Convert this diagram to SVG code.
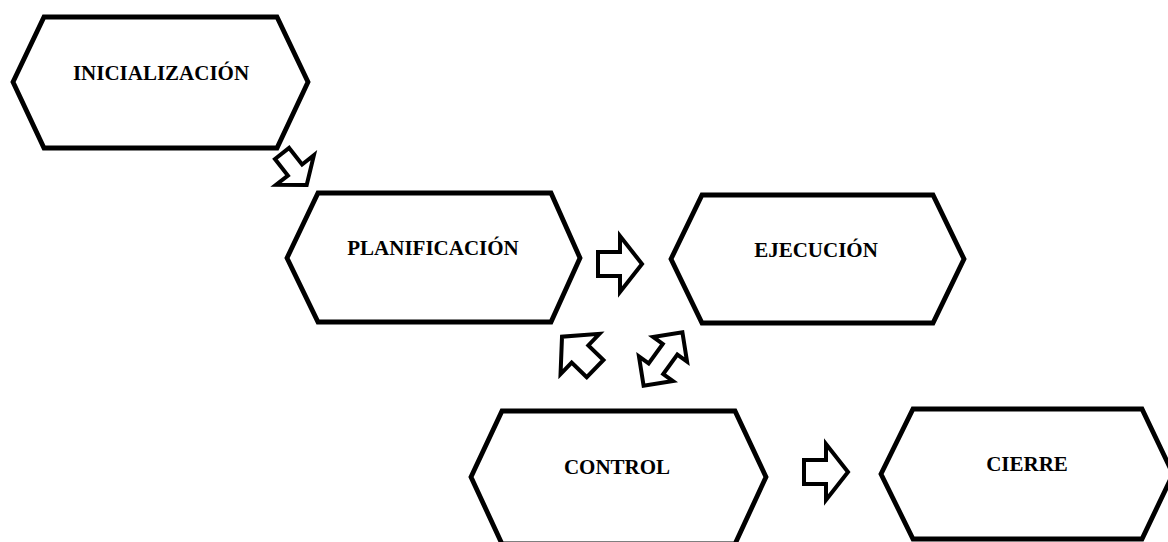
<svg xmlns="http://www.w3.org/2000/svg" width="1168" height="542" viewBox="0 0 1168 542">
  <style>
    .hex { fill: #ffffff; stroke: #000000; stroke-width: 4.8; stroke-linejoin: miter; }
    .lbl { font-family: "Liberation Serif", "Times New Roman", serif; font-weight: bold; font-size: 21px; fill: #000000; text-anchor: middle; }
    .blk { fill: #ffffff; stroke: #000000; stroke-width: 4; stroke-linejoin: miter; }
  </style>
  <defs>
    <path id="rarrow" d="M-22,-12 H0 V-28 L22,0 L0,28 V12 H-22 Z"/>
  </defs>
  <rect x="0" y="0" width="1168" height="542" fill="#ffffff"/>

  <g id="connectors">
    <path class="blk" transform="translate(295,170) rotate(52)" d="M-21,-9 H0 V-24 L19,0 L0,24 V9 H-21 Z"/>
    <use class="blk" href="#rarrow" transform="translate(620,264)"/>
    <use class="blk" href="#rarrow" transform="translate(826,472)"/>
    <path class="blk" transform="translate(580,354) rotate(-136)" d="M-21,-12 H0 V-28 L25,0 L0,28 V12 H-21 Z"/>
    <path class="blk" transform="translate(663,359) rotate(-54)" d="M-33,0 L-12,-21 V-9 H12 V-21 L33,0 L12,21 V9 H-12 V21 Z"/>
  </g>

  <g id="node-inicializacion">
    <polygon class="hex" points="13,82 44,17 277,17 308,82 277,148 44,148"/>
    <text class="lbl" x="161" y="80">INICIALIZACIÓN</text>
  </g>
  <g id="node-planificacion">
    <polygon class="hex" points="287,258 318,193 551,193 580,258 551,322 318,322"/>
    <text class="lbl" x="433" y="255">PLANIFICACIÓN</text>
  </g>
  <g id="node-ejecucion">
    <polygon class="hex" points="671,259 702,195 933,195 964,259 933,323 702,323"/>
    <text class="lbl" x="816" y="257">EJECUCIÓN</text>
  </g>
  <g id="node-control">
    <polygon class="hex" points="471,477 502,411 735,411 766,477 735,544 502,544"/>
    <text class="lbl" x="617" y="474">CONTROL</text>
  </g>
  <g id="node-cierre">
    <polygon class="hex" points="881,474 913,409 1142,409 1173,474 1142,539 913,539"/>
    <text class="lbl" x="1027" y="471">CIERRE</text>
  </g>
</svg>
